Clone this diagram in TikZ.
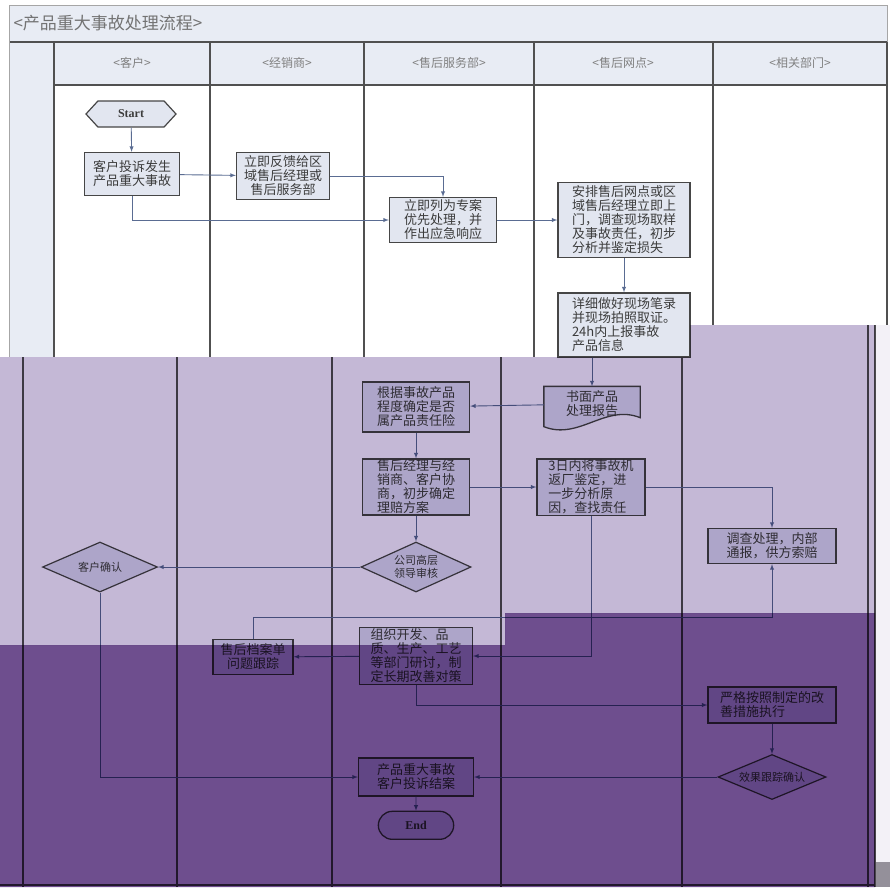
\documentclass[tikz,border=0pt]{standalone}
\usepackage{fontspec}
\setmainfont{Liberation Serif}
\newfontfamily\cjk{Noto Sans CJK SC}
\usepackage{tikz}
\usetikzlibrary{positioning, arrows, calc, shapes.geometric, shapes.symbols, shapes.misc, backgrounds}
\usepackage{xcolor}
\definecolor{hdr-fill}{HTML}{E8ECF4}
\definecolor{box-fill}{HTML}{E2E6F0}
\definecolor{box-line}{HTML}{464646}
\definecolor{lane-line}{HTML}{505050}
\definecolor{flow-blue}{HTML}{5A6C92}
\definecolor{txt-gray}{HTML}{3C3C3C}
\definecolor{pale-purple}{HTML}{C4B8D6}
\definecolor{deep-purple}{HTML}{6E4E8E}

\begin{document}
\begin{tikzpicture}[x=1pt, y=-1pt, node distance=14pt,
	box/.style={rectangle, draw=box-line, line width=1.3pt, fill=box-fill, text=txt-gray, inner sep=1pt, align=center, font=\cjk\fontsize{13}{14}\selectfont},
	dia/.style={diamond, aspect=2.2, draw=box-line, line width=1.2pt, fill=box-fill, text=txt-gray, inner sep=0pt, align=center, font=\cjk\fontsize{11}{13}\selectfont},
	flow/.style={draw=flow-blue, line width=0.9pt, -latex},
	lane/.style={draw=lane-line, line width=1.6pt},
	head/.style={text=gray, font=\cjk\fontsize{12}{14}\selectfont}]
	\useasboundingbox (0,0) rectangle (890,887);
	\begin{scope}[on background layer]
		\fill[white] (0,0) rectangle (890,887);
	\end{scope}

	\filldraw[fill=hdr-fill, draw=gray!70, line width=1pt] (9,5) rectangle (887,42);
	\fill[hdr-fill] (9,42) rectangle (887,85);
	\fill[hdr-fill] (9,85) rectangle (54,357);
	\node[anchor=west, text=gray!90!black, font=\cjk\fontsize{17}{20}\selectfont] (title) at (10,23) {<产品重大事故处理流程>};

	\draw[lane] (9,42) -- (887,42);
	\draw[lane] (54,85) -- (887,85);
	\foreach \x in {54,210,364,534} \draw[lane] (\x,42) -- (\x,357);
	\foreach \x in {713,887} \draw[lane] (\x,42) -- (\x,325);
	\draw[gray!70, line width=1pt] (9,5) -- (9,357);
	\foreach \x in {23,177,332,501,682} \draw[lane] (\x,357) -- (\x,887);
	\foreach \x in {868,875} \draw[lane] (\x,325) -- (\x,887);
	\draw[lane] (0,885) -- (875,885);

	\node[head] (kehu) at (132,63) {<客户>};
	\node[head] (jxs) at (287,63) {<经销商>};
	\node[head] (fwb) at (449,63) {<售后服务部>};
	\node[head] (wd) at (623,63) {<售后网点>};
	\node[head] (xgbm) at (800,63) {<相关部门>};

	\node[signal, signal to=west and east, signal pointer angle=95, draw=box-line, line width=1.2pt, fill=box-fill, minimum width=90pt, minimum height=26pt, inner sep=0pt, font=\bfseries\fontsize{12}{14}\selectfont, text=txt-gray] (start) at (131,114) {Start};
	\node[box, minimum width=95pt, minimum height=43pt] (tousu) at (132,174) {客户投诉发生\\产品重大事故};
	\node[box, minimum width=93pt, minimum height=47pt] (fankui) at (283,176) {立即反馈给区\\域售后经理或\\售后服务部};
	\node[box, minimum width=107pt, minimum height=45pt] (zhuanan) at (443,220) {立即列为专案\\优先处理，并\\作出应急响应};
	\node[box, minimum width=132pt, minimum height=75pt, align=left] (anpai) at (624,220) {安排售后网点或区\\域售后经理立即上\\门，调查现场取样\\及事故责任，初步\\分析并鉴定损失};
	\node[box, minimum width=132pt, minimum height=64pt, align=left] (xiangxi) at (624,325) {详细做好现场笔录\\并现场拍照取证。\\24h内上报事故\\产品信息};

	\node[box, draw=none, fill=none, minimum width=95pt, minimum height=34pt] (baogao) at (592,404) {书面产品\\处理报告};
	\begin{scope}[on background layer]
		\draw[draw=box-line, line width=1.3pt, fill=box-fill] (baogao.north west) -- (baogao.north east) -- ([yshift=4pt]baogao.south east) .. controls +(-35pt,14pt) and +(35pt,-14pt) .. ([yshift=-5pt]baogao.south west) -- cycle;
	\end{scope}
	\node[box, minimum width=107pt, minimum height=50pt] (genju) at (416,407) {根据事故产品\\程度确定是否\\属产品责任险};
	\node[box, minimum width=107pt, minimum height=52pt, align=left] (xieshang) at (416,487) {售后经理与经\\销商、客户协\\商，初步确定\\理赔方案};
	\node[box, minimum width=108pt, minimum height=54pt, align=left] (fanchang) at (591,487) {3日内将事故机\\返厂鉴定，进\\一步分析原\\因，查找责任};
	\node[box, minimum width=128pt, minimum height=35pt] (diaocha) at (772,546) {调查处理，内部\\通报，供方索赔};
	\node[dia, minimum width=110pt, minimum height=50pt] (shenhe) at (416,567) {公司高层\\领导审核};
	\node[dia, minimum width=115pt, minimum height=50pt] (queren) at (100,567) {客户确认};
	\node[box, minimum width=80pt, minimum height=35pt] (dangan) at (253,657) {售后档案单\\问题跟踪};
	\node[box, minimum width=113pt, minimum height=57pt, align=left] (yantao) at (416,656) {组织开发、品\\质、生产、工艺\\等部门研讨，制\\定长期改善对策};
	\node[box, minimum width=128pt, minimum height=36pt, align=left] (zhixing) at (772,705) {严格按照制定的改\\善措施执行};
	\node[dia, minimum width=108pt, minimum height=45pt] (xiaoguo) at (772,777) {效果跟踪确认};
	\node[box, minimum width=115pt, minimum height=38pt] (jiean) at (416,777) {产品重大事故\\客户投诉结案};
	\node[rounded rectangle, draw=box-line, line width=1.3pt, fill=box-fill, minimum width=82pt, minimum height=28pt, font=\bfseries\fontsize{12}{14}\selectfont, text=txt-gray, below=of jiean] (stop) {End};
	\coordinate (kink) at (253,617);

	\draw
	(start) edge[flow] (tousu)
	(tousu) edge[flow] (fankui)
	(zhuanan) edge[flow] (anpai)
	(anpai) edge[flow] (xiangxi)
	(baogao) edge[flow] (genju)
	(genju) edge[flow] (xieshang)
	(xieshang) edge[flow] (fanchang)
	(xieshang) edge[flow] (shenhe)
	(shenhe) edge[flow] (queren)
	(yantao) edge[flow] (dangan)
	(zhixing) edge[flow] (xiaoguo)
	(xiaoguo) edge[flow] (jiean)
	(jiean) edge[flow] (stop);
	\draw[flow] (tousu) |- (zhuanan);
	\draw[flow] (fankui) -| (zhuanan);
	\draw[flow] (baogao.north |- xiangxi.south) -- (baogao);
	\draw[flow] (fanchang) -| (diaocha);
	\draw[flow] (fanchang) |- (yantao);
	\draw[flow] (queren) |- (jiean);
	\draw[flow] (yantao) |- (zhixing);
	\draw[flow] (dangan) -- (kink) -| (diaocha);

	\fill[pale-purple, blend mode=multiply] (0,357) -- (690,357) -- (690,325) -- (875,325) -- (875,613) -- (505,613) -- (505,645) -- (0,645) -- cycle;
	\fill[deep-purple, blend mode=multiply] (0,645) -- (505,645) -- (505,613) -- (875,613) -- (875,887) -- (0,887) -- cycle;
	\fill[white!80!pale-purple] (876,325) rectangle (890,887);
	\fill[gray!70!pale-purple] (876,862) rectangle (890,887);
\end{tikzpicture}
\end{document}
